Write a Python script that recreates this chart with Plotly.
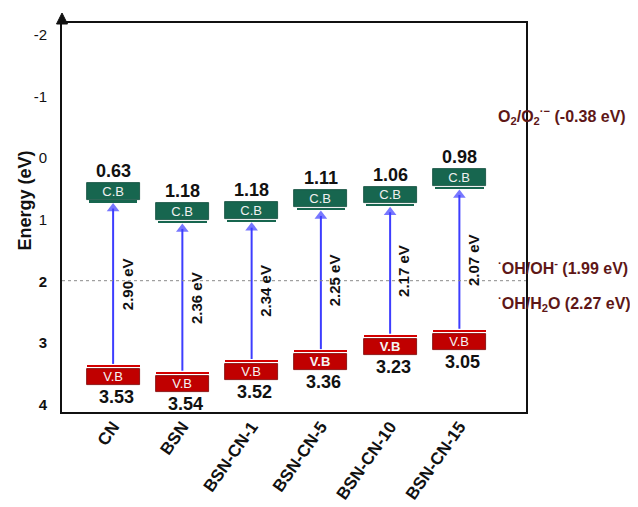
import plotly.graph_objects as go

# ---------------- data ----------------
categories = ["CN", "BSN", "BSN-CN-1", "BSN-CN-5", "BSN-CN-10", "BSN-CN-15"]
cb_values = [0.63, 1.18, 1.18, 1.11, 1.06, 0.98]      # labelled CB potentials (eV)
vb_values = [3.53, 3.54, 3.52, 3.36, 3.23, 3.05]      # labelled VB potentials (eV)
band_gaps = [2.90, 2.36, 2.34, 2.25, 2.17, 2.07]      # labelled band gaps (eV)
cb_drawn = [0.71, 1.04, 1.02, 0.83, 0.77, 0.49]       # CB edge as drawn in the schematic (eV)
vb_drawn = [3.38, 3.49, 3.30, 3.14, 2.89, 2.81]       # VB edge as drawn in the schematic (eV)
ref_labels = ["O<sub>2</sub>/O<sub>2</sub><sup>·−</sup> (-0.38 eV)",
              "<sup>·</sup>OH/OH<sup>-</sup> (1.99 eV)",
              "<sup>·</sup>OH/H<sub>2</sub>O (2.27 eV)"]
ref_values = [-0.38, 1.99, 2.27]
y_ticks = [-2, -1, 0, 1, 2, 3, 4]

# ---------------- style ----------------
FONT = "Liberation Sans, Arial, sans-serif"
GREEN = "#17664f"
RED = "#c00000"
BLUE = "#3d3dff"
MAROON = "#5e1717"
CB_H, CB_GAP = 0.27, 0.035
VB_H, VB_GAP = 0.26, 0.045
EDGE = 0.028
n = len(categories)
vb_bold = {"BSN-CN-5", "BSN-CN-10"}

fig = go.Figure()

# CB boxes
fig.add_bar(x=categories, base=[c - CB_GAP - CB_H for c in cb_drawn], y=[CB_H] * n,
            width=0.766, marker=dict(color=GREEN, line=dict(color="#0e4a3a", width=0.8)),
            text=["C.B"] * n, textposition="inside", insidetextanchor="middle",
            textfont=dict(color="#f0f0f0", size=13, family=FONT), constraintext="none",
            hoverinfo="skip", showlegend=False)
# CB edge lines
fig.add_bar(x=categories, base=[c - EDGE / 2 for c in cb_drawn], y=[EDGE] * n,
            width=0.70, marker=dict(color=GREEN, line=dict(width=0)),
            hoverinfo="skip", showlegend=False)
# VB boxes
fig.add_bar(x=categories, base=[v + VB_GAP for v in vb_drawn], y=[VB_H] * n,
            width=0.766, marker=dict(color=RED, line=dict(color="#7a0000", width=0.8)),
            text=[("<b>V.B</b>" if c in vb_bold else "V.B") for c in categories],
            textposition="inside", insidetextanchor="middle",
            textfont=dict(color="#f4f4f4", size=13, family=FONT), constraintext="none",
            hoverinfo="skip", showlegend=False)
# VB edge lines
fig.add_bar(x=categories, base=[v - EDGE / 2 for v in vb_drawn], y=[EDGE] * n,
            width=0.766, marker=dict(color="#d40000", line=dict(width=0)),
            hoverinfo="skip", showlegend=False)

# excitation arrows VB -> CB
for i, cat in enumerate(categories):
    fig.add_scatter(x=[cat, cat], y=[vb_drawn[i] - 0.04, cb_drawn[i] + 0.11],
                    mode="lines+markers", line=dict(color=BLUE, width=2),
                    marker=dict(symbol=["circle", "triangle-up"], size=[0, 11], color=BLUE,
                                line=dict(width=0)),
                    hoverinfo="skip", showlegend=False, cliponaxis=False)

annotations = []
for i in range(n):
    # band gap label
    annotations.append(dict(x=i, y=(cb_drawn[i] + vb_drawn[i]) / 2, xref="x", yref="y",
                            xshift=14, showarrow=False, textangle=-90,
                            text=f"<b>{band_gaps[i]:.2f} eV</b>",
                            font=dict(size=15, color="#111", family=FONT)))
    # CB value
    annotations.append(dict(x=i, y=cb_drawn[i] - CB_GAP - CB_H, xref="x", yref="y",
                            yshift=12, showarrow=False, yanchor="middle",
                            text=f"<b>{cb_values[i]:.2f}</b>",
                            font=dict(size=18, color="#111", family=FONT)))
    # VB value
    annotations.append(dict(x=i, y=vb_drawn[i] + VB_GAP + VB_H, xref="x", yref="y",
                            yshift=-12, xshift=3, showarrow=False, yanchor="middle",
                            text=f"<b>{vb_values[i]:.2f}</b>",
                            font=dict(size=18, color="#111", family=FONT)))

# redox potential labels on the right
ref_shift = [19, 14, -5]
for lab, val, sh in zip(ref_labels, ref_values, ref_shift):
    annotations.append(dict(x=1, xref="paper", xshift=-30, xanchor="left",
                            y=val, yref="y", yshift=sh, yanchor="middle",
                            showarrow=False, text=f"<b>{lab}</b>",
                            font=dict(size=16, color=MAROON, family=FONT)))

# y-axis title
annotations.append(dict(x=0, xref="paper", xshift=-37, xanchor="center",
                        y=0.69, yref="y", yanchor="middle",
                        textangle=-90, showarrow=False, text="<b>Energy (eV)</b>",
                        font=dict(size=18, color="#111", family=FONT)))

shapes = [
    dict(type="line", xref="paper", x0=0, x1=1, yref="y", y0=ref_values[1],
         y1=ref_values[1], line=dict(color="#8a8a8a", width=1, dash="dot")),
    # arrowhead on top of the y axis
    dict(type="path", xref="paper", yref="paper", xsizemode="pixel", ysizemode="pixel",
         xanchor=0, yanchor=1, path="M -5.5,-1 L 5.5,-1 L 0,10 Z",
         fillcolor="#111", line=dict(color="#111", width=1)),
]

fig.update_layout(
    width=638, height=507,
    margin=dict(l=54, r=120, t=15, b=91),
    paper_bgcolor="white", plot_bgcolor="white",
    barmode="overlay", bargap=0,
    font=dict(family=FONT, color="#111"),
    annotations=annotations,
    shapes=shapes,
    showlegend=False,
)
fig.update_xaxes(type="category", range=[-0.738, 5.962], showline=True, linecolor="#111",
                 linewidth=2, mirror=True, showgrid=False, zeroline=False, ticks="",
                 tickangle=-55, ticklabelstandoff=-4,
                 tickfont=dict(size=17, family=FONT, color="#111", weight="bold"))
fig.update_yaxes(range=[4.12, -2.19], showline=True, linecolor="#111", linewidth=2,
                 mirror=True, showgrid=False, zeroline=False,
                 tickvals=y_ticks,
                 ticktext=[(f"<b>{t}</b>" if t >= 2 else str(t)) for t in y_ticks],
                 ticks="outside", ticklen=10, tickcolor="rgba(0,0,0,0)",
                 tickfont=dict(size=15, family=FONT, color="#111"))

fig.write_html("out.html")
